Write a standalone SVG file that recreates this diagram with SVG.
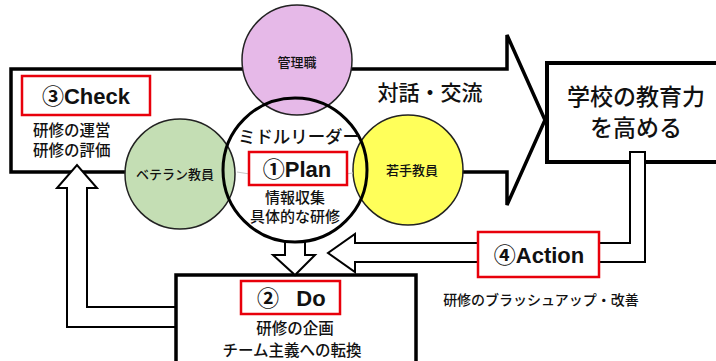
<svg xmlns="http://www.w3.org/2000/svg" width="716" height="361" viewBox="0 0 716 361">
<style>
.arrow{fill:#fff;stroke:#000;stroke-width:2;stroke-linejoin:miter}
.big{fill:#fff;stroke:#000;stroke-width:3.5}
.circ{stroke:#222;stroke-width:1.5}
.red{fill:#fff;stroke:#e8000b;stroke-width:2.5}
.jp{font-family:"Noto Sans CJK JP","Liberation Sans",sans-serif;fill:#111;font-weight:500}
.lat{font-family:"Liberation Sans","Noto Sans CJK JP",sans-serif;font-weight:bold;fill:#111}
</style>
<rect width="716" height="361" fill="#fff"/>
<g id="connectors">
  <polygon id="main-arrow" class="big" points="11,69 507,69 507,35 545,120 507,205 507,172 11,172"/>
  <polygon id="check-arrow" class="arrow" points="87,307 87,188 97,188 77,165 57,188 67,188 67,327 183,327 183,307"/>
</g>
<g id="do">
  <rect x="176" y="275" width="240" height="100" fill="#fff" stroke="#000" stroke-width="3.5"/>
  <rect class="red" x="241" y="281" width="99" height="33"/>
  <text class="lat" x="268" y="306" font-size="22" text-anchor="middle">②</text>
  <text class="lat" x="311" y="306" font-size="22" text-anchor="middle">Do</text>
  <text class="jp" x="295" y="334" font-size="15.5" text-anchor="middle">研修の企画</text>
  <text class="jp" x="292" y="356" font-size="15.5" text-anchor="middle">チーム主義への転換</text>
</g>
<g id="school">
  <rect x="547" y="63" width="175" height="99" fill="#fff" stroke="#000" stroke-width="4"/>
  <text class="jp" x="636" y="105" font-size="23" text-anchor="middle">学校の教育力</text>
  <text class="jp" x="636" y="136" font-size="23" text-anchor="middle">を高める</text>
</g>
<g id="connectors2">
  <polygon id="action-arrow" class="arrow" points="630,152 645,152 645,262 355,262 355,272 328,253 355,234 355,243 630,243"/>
  <polygon id="plan-do-arrow" class="arrow" points="285,233 305,233 305,255 315,255 295,275 273,255 285,255"/>
</g>
<g id="middle-leader">
  <circle cx="295" cy="170" r="72" fill="#fff"/>
</g>
<g id="kanri">
  <circle class="circ" cx="297" cy="60" r="55" fill="#e6b9e8"/>
  <text class="jp" x="297" y="67" font-size="13" text-anchor="middle">管理職</text>
</g>
<g id="veteran">
  <circle class="circ" cx="180" cy="174" r="55" fill="#c4deb4"/>
  <text class="jp" x="175" y="179" font-size="13" text-anchor="middle">ベテラン教員</text>
</g>
<g id="young">
  <circle class="circ" cx="408" cy="170" r="55" fill="#ffff5a"/>
  <text class="jp" x="412" y="175" font-size="13" text-anchor="middle">若手教員</text>
</g>
<g id="middle-leader-outline">
  <circle cx="295" cy="170" r="72" fill="none" stroke="#000" stroke-width="3"/>
  <path d="M237,172 Q295,182 353,173" fill="none" stroke="#c8c8c8" stroke-width="1.2"/>
  <text class="jp" x="238" y="143" font-size="17.5" textLength="122">ミドルリーダー</text>
</g>
<g id="plan">
  <rect class="red" x="249" y="152" width="98" height="33"/>
  <text class="lat" x="297" y="177" font-size="22" text-anchor="middle">①Plan</text>
  <text class="jp" x="295" y="203" font-size="15" text-anchor="middle">情報収集</text>
  <text class="jp" x="295" y="222" font-size="15" text-anchor="middle">具体的な研修</text>
</g>
<g id="check">
  <rect class="red" x="22" y="76" width="128" height="39"/>
  <text class="lat" x="86" y="104" font-size="22" text-anchor="middle">③Check</text>
  <text class="jp" x="33" y="136" font-size="15.5">研修の運営</text>
  <text class="jp" x="33" y="156" font-size="15.5">研修の評価</text>
</g>
<g id="action">
  <rect class="red" x="478" y="232" width="121" height="45"/>
  <text class="lat" x="539" y="263" font-size="22" text-anchor="middle">④Action</text>
  <text class="jp" x="541" y="305" font-size="14" text-anchor="middle">研修のブラッシュアップ・改善</text>
</g>
<g id="dialog">
  <text class="jp" x="430" y="100" font-size="21" text-anchor="middle">対話・交流</text>
</g>
</svg>
